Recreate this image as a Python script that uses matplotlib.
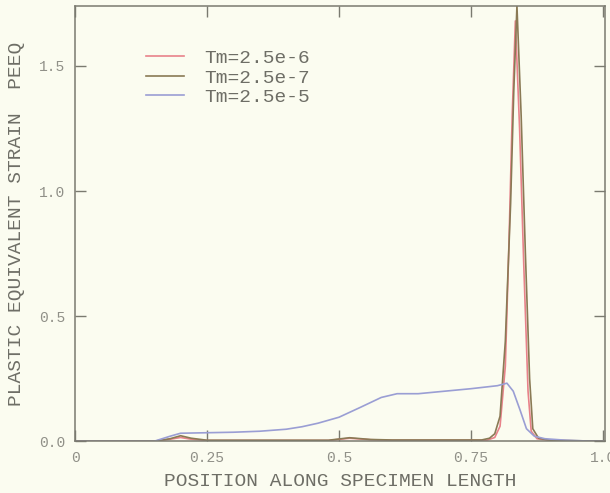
import matplotlib
matplotlib.use("Agg")
import matplotlib.pyplot as plt

# Position along specimen length and PEEQ values
x_tm6 = [0.0, 0.15, 0.18, 0.20, 0.22, 0.25, 0.48, 0.52, 0.56, 0.60, 0.78, 0.795,
         0.805, 0.815, 0.822, 0.828, 0.834, 0.842, 0.850, 0.858, 0.864, 0.875, 0.90, 1.0]
y_tm6 = [0.0, 0.0, 0.008, 0.015, 0.008, 0.003, 0.003, 0.012, 0.006, 0.004, 0.004, 0.015,
         0.06, 0.30, 0.80, 1.30, 1.68, 1.25, 0.70, 0.20, 0.04, 0.01, 0.003, 0.0]

x_tm7 = [0.0, 0.15, 0.18, 0.20, 0.22, 0.25, 0.48, 0.52, 0.56, 0.60, 0.77, 0.785,
         0.795, 0.805, 0.815, 0.825, 0.831, 0.837, 0.845, 0.853, 0.861, 0.867, 0.878, 0.90, 1.0]
y_tm7 = [0.0, 0.0, 0.01, 0.022, 0.012, 0.004, 0.004, 0.014, 0.007, 0.005, 0.005, 0.012,
         0.03, 0.10, 0.40, 0.95, 1.40, 1.74, 1.30, 0.75, 0.25, 0.05, 0.012, 0.004, 0.0]

x_tm5 = [0.0, 0.15, 0.18, 0.20, 0.25, 0.30, 0.35, 0.40, 0.43, 0.46, 0.50, 0.54, 0.58,
         0.61, 0.65, 0.70, 0.75, 0.80, 0.818, 0.83, 0.843, 0.855, 0.87, 0.89, 0.93, 0.97, 1.0]
y_tm5 = [0.0, 0.0, 0.02, 0.032, 0.034, 0.036, 0.040, 0.048, 0.058, 0.072, 0.096, 0.135, 0.175,
         0.19, 0.19, 0.20, 0.21, 0.222, 0.232, 0.20, 0.124, 0.05, 0.02, 0.01, 0.004, 0.001, 0.0]

series = [
    ("Tm=2.5e-6", x_tm6, y_tm6, "#e8828a"),
    ("Tm=2.5e-7", x_tm7, y_tm7, "#8a7a55"),
    ("Tm=2.5e-5", x_tm5, y_tm5, "#9a9ed4"),
]

x_ticks = [0, 0.25, 0.5, 0.75, 1.0]
x_tick_labels = ["0", "0.25", "0.5", "0.75", "1.0"]
y_ticks = [0.0, 0.5, 1.0, 1.5]
y_tick_labels = ["0.0", "0.5", "1.0", "1.5"]

bg = "#fbfcf0"
mono = "Liberation Mono"

fig = plt.figure(figsize=(6.1, 4.93), dpi=100, facecolor=bg)
ax = fig.add_axes([0.123, 0.105, 0.869, 0.883], facecolor=bg)

for label, xs, ys, color in series:
    ax.plot(xs, ys, color=color, linewidth=1.2, label=label)

ax.set_xlim(0, 1.004)
ax.set_ylim(0, 1.74)
ax.set_xticks(x_ticks)
ax.set_xticklabels(x_tick_labels, family=mono, fontsize=10.5, color="#909088")
ax.set_yticks(y_ticks)
ax.set_yticklabels(y_tick_labels, family=mono, fontsize=10.5, color="#909088")
ax.tick_params(direction="in", length=8, width=1, color="#7a7a70",
               top=True, right=True, pad=7)

for spine in ax.spines.values():
    spine.set_color("#7a7a70")
    spine.set_linewidth(1.1)

ax.set_xlabel("POSITION ALONG SPECIMEN LENGTH", family=mono, fontsize=14,
              color="#6e6e66", labelpad=6)
ax.set_ylabel("PLASTIC EQUIVALENT STRAIN  PEEQ", family=mono, fontsize=14,
              color="#6e6e66", labelpad=10)

leg = ax.legend(loc="upper left", bbox_to_anchor=(0.1, 0.94), frameon=False,
                prop={"family": mono, "size": 14}, handlelength=2.0,
                labelspacing=0.1, handletextpad=1.0)
for text in leg.get_texts():
    text.set_color("#6e6e66")

fig.savefig("out.png", dpi=100, facecolor=bg)
